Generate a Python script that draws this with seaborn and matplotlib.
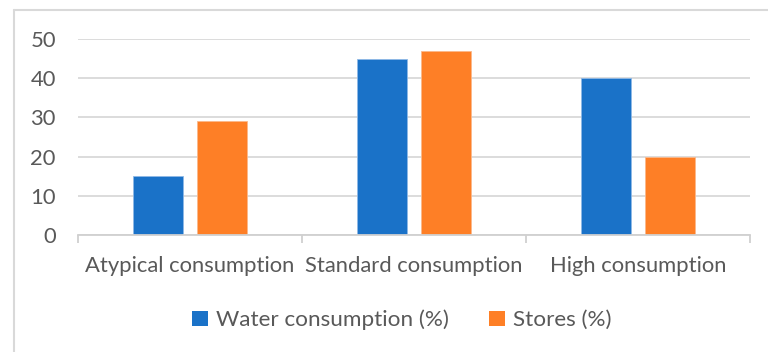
import pandas as pd
import matplotlib.pyplot as plt
import seaborn as sns
from matplotlib.lines import Line2D
from matplotlib.patches import Patch

categories = ['Atypical consumption', 'Standard consumption', 'High consumption']
water = [15, 45, 40]
stores = [29, 47, 20]
series = ['Water consumption (%)', 'Stores (%)']
colors = ['#1A72C8', '#FE7F26']

df = pd.DataFrame({
    'category': categories * 2,
    'series': [series[0]] * 3 + [series[1]] * 3,
    'value': water + stores,
})

sns.set_theme(style='white')
plt.rcParams['font.family'] = ['Lato', 'DejaVu Sans']
grey = '#595959'

fig = plt.figure(figsize=(7.68, 3.52), dpi=100)
ax = fig.add_axes([78 / 768, 1 - 235 / 352, (750 - 78) / 768, (235 - 39) / 352])

sns.barplot(data=df, x='category', y='value', hue='series', order=categories,
            hue_order=series, palette=colors, width=0.572, gap=0.22,
            saturation=1, linewidth=0.6, ax=ax, legend=False)
for bar, c in zip(ax.patches, [colors[0]] * 3 + [colors[1]] * 3):
    bar.set_edgecolor('#8fb9e6' if c == colors[0] else '#fbb98c')

ax.set_xlim(-0.5, 2.5)
ax.set_ylim(0, 50)
ax.set_yticks(range(0, 51, 10))
ax.yaxis.grid(True, color='#d9d9d9', linewidth=1.3)
ax.set_axisbelow(True)
for s in ['top', 'right', 'left']:
    ax.spines[s].set_visible(False)
ax.spines['bottom'].set_color('#d0d0d0')
ax.spines['bottom'].set_linewidth(1.3)
ax.set_xlabel('')
ax.set_ylabel('')

ax.tick_params(axis='y', length=0, pad=16, labelsize=15.8, labelcolor=grey)
ax.tick_params(axis='x', which='major', length=0, pad=15, labelsize=15.8, labelcolor=grey)
ax.set_xticks([-0.5, 0.5, 1.5, 2.5], minor=True)
ax.tick_params(axis='x', which='minor', bottom=True, length=5.5, width=1.3,
               color='#d0d0d0', direction='out')

handles = [Patch(facecolor=c, edgecolor='none') for c in colors]
fig.legend(handles, series, loc='center', bbox_to_anchor=(402 / 768, 1 - 320 / 352),
           ncol=2, frameon=False, fontsize=16.2, labelcolor=grey,
           handlelength=0.7, handleheight=0.7, handletextpad=0.35, columnspacing=1.8)

# outer chart-area frame (top and left edges visible in the reference)
fig.add_artist(Line2D([14 / 768, 1], [1 - 10 / 352, 1 - 10 / 352], color='#d9d9d9', lw=1.5))
fig.add_artist(Line2D([14 / 768, 14 / 768], [0, 1 - 10 / 352], color='#d9d9d9', lw=1.5))

fig.savefig('out.png', dpi=100)
